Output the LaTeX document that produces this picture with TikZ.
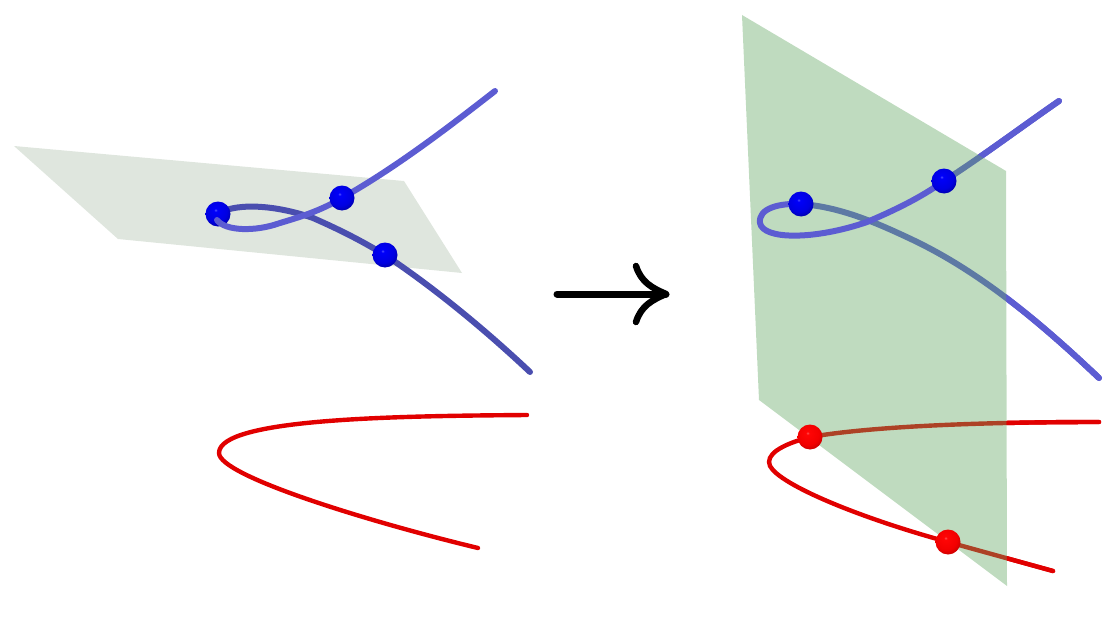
\documentclass[tikz,border=0pt]{standalone}
\pgfdeclareradialshading{ballb}{\pgfpoint{-5bp}{8bp}}{rgb(0bp)=(.35,.35,1); rgb(3bp)=(0,0,.98); rgb(22bp)=(0,0,.88); rgb(32bp)=(0,0,.66); rgb(40bp)=(0,0,.4); rgb(100bp)=(0,0,.2)}
\pgfdeclareradialshading{ballr}{\pgfpoint{-5bp}{8bp}}{rgb(0bp)=(1,.35,.35); rgb(3bp)=(1,.02,.02); rgb(22bp)=(.95,0,0); rgb(32bp)=(.78,0,0); rgb(40bp)=(.5,0,0); rgb(100bp)=(.25,0,0)}
\begin{document}
\begin{tikzpicture}[x=1pt,y=-1pt,line cap=round,line join=round,
  bluetube/.style={line width=6pt,draw=tubeblue},
  darktube/.style={line width=6pt,draw=tubedark},
  redtube/.style={line width=4.4pt,draw=tubered},
  blueball/.style={circle,inner sep=0pt,minimum size=25pt,shading=ballb},
  redball/.style={circle,inner sep=0pt,minimum size=25pt,shading=ballr},
  planeA/.style={fill=planeleft,fill opacity=0.4,draw=none},
  planeB/.style={fill=planeright,fill opacity=0.4,draw=none}]
\definecolor{tubeblue}{RGB}{92,92,210}
\definecolor{tubedark}{RGB}{74,78,175}
\definecolor{tubered}{RGB}{225,0,0}
\definecolor{planeleft}{RGB}{175,192,172}
\definecolor{planeright}{RGB}{95,165,95}
\useasboundingbox (0,0) rectangle (1112,642);
% left figure
\coordinate (la) at (218,214);
\coordinate (lb) at (342,198);
\coordinate (lc) at (385,255);
\fill[planeA] (14,146) -- (404,181) -- (462,273) -- (118,239) -- cycle;
\draw[darktube] (la) .. controls (232,204) and (270,203) .. (313,218) .. controls (345,232) and (365,243) .. (lc) .. controls (430,285) and (480,325) .. (530,372);
\draw[bluetube] (lb) .. controls (395,168) and (445,130) .. (495,91);
\node[blueball] (l1) at (la) {};
\draw[bluetube] (217,220) .. controls (225,231) and (255,232) .. (280,223) .. controls (300,217) and (320,211) .. (lb);
\node[blueball] (l2) at (lb) {};
\node[blueball] (l3) at (lc) {};
\draw[redtube] (527,415) .. controls (400,416) and (219,418) .. (219,453) .. controls (219,476) and (370,522) .. (478,548);
% arrow
\coordinate (at) at (557,294);
\coordinate (ah) at (666,294);
\coordinate (au) at (636,266);
\coordinate (ad) at (636,322);
\draw[line width=7pt] (at) -- (ah);
\draw[line width=6.5pt] (au) .. controls (641,282) and (652,288) .. (ah) .. controls (652,300) and (641,306) .. (ad);
% right figure
\coordinate (ra) at (801,204);
\coordinate (rb) at (944,181);
\coordinate (rc) at (810,437);
\coordinate (rd) at (948,542);
\coordinate (bu) at (1059,101);
\coordinate (bl) at (1099,378);
\coordinate (ru) at (1099,422);
\coordinate (rl) at (1053,571);
\draw[bluetube] (ra) .. controls (840,207) and (875,222) .. (913,240) .. controls (980,272) and (1040,322) .. (bl);
\draw[bluetube] (rb) .. controls (980,158) and (1020,128) .. (bu);
\draw[redtube] (rc) .. controls (880,425) and (1000,422) .. (ru);
\draw[redtube] (rd) -- (rl);
\fill[planeB] (742,15) -- (1006,171) -- (1007,586) -- (759,400) -- cycle;
\begin{scope}
\clip (742,15) -- (1006,171) -- (1007,586) -- (1112,642) -- (1112,0) -- (742,0) -- cycle;
\draw[bluetube] (ra) .. controls (840,207) and (875,222) .. (913,240) .. controls (980,272) and (1040,322) .. (bl);
\draw[bluetube] (rb) .. controls (980,158) and (1020,128) .. (bu);
\draw[redtube] (rc) .. controls (880,425) and (1000,422) .. (ru);
\draw[redtube] (rd) -- (rl);
\end{scope}
\draw[redtube] (rc) .. controls (780,445) and (765,455) .. (770,466) .. controls (780,485) and (860,518) .. (rd);
\draw[bluetube] (ra) .. controls (780,203) and (758,208) .. (760,223) .. controls (763,240) and (815,240) .. (867,222) .. controls (895,210) and (920,198) .. (rb);
\node[blueball] (r1) at (ra) {};
\node[blueball] (r2) at (rb) {};
\node[redball] (r3) at (rc) {};
\node[redball] (r4) at (rd) {};
\end{tikzpicture}
\end{document}
